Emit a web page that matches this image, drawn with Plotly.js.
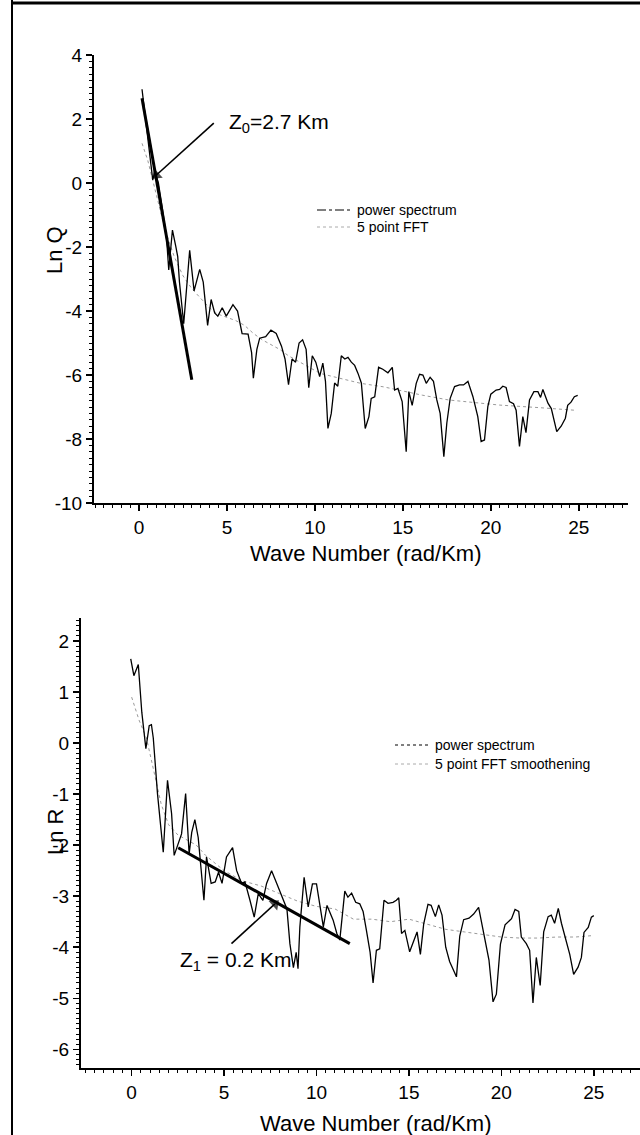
<!DOCTYPE html>
<html>
<head>
<meta charset="utf-8">
<script src="https://cdn.plot.ly/plotly-3.0.1.min.js"></script>
<style>html,body{margin:0;padding:0;background:#fff;}#chart{width:640px;height:1135px;}</style>
</head>
<body>
<div id="chart"></div>
<script>
// ---- Top panel: Ln Q vs wave number ----
var qX = [0.17,0.51,0.70,0.78,0.90,1.10,1.30,1.56,1.69,1.90,2.09,2.20,2.30,2.54,2.88,3.13,3.45,3.65,3.90,4.10,4.30,4.48,4.73,4.96,5.34,5.60,5.86,6.20,6.40,6.50,6.70,6.86,7.20,7.50,7.80,8.10,8.30,8.50,8.70,8.90,9.10,9.30,9.50,9.65,9.85,10.05,10.27,10.45,10.60,10.74,10.93,11.12,11.30,11.50,11.70,11.88,12.07,12.26,12.45,12.64,12.86,13.07,13.20,13.40,13.62,13.86,14.15,14.40,14.53,14.72,14.96,15.19,15.34,15.53,15.76,15.95,16.14,16.33,16.55,16.74,16.93,17.12,17.33,17.50,17.69,17.94,18.22,18.45,18.70,18.98,19.26,19.45,19.64,19.83,20.00,20.30,20.50,20.68,20.87,21.06,21.29,21.44,21.63,21.82,22.00,22.20,22.45,22.68,22.83,22.96,23.25,23.44,23.75,24.00,24.24,24.37,24.56,24.75,24.94];
var qY = [2.93,1.34,0.40,0.10,0.35,0.00,-0.70,-1.68,-2.72,-1.47,-1.98,-2.30,-3.10,-4.40,-2.10,-3.37,-2.70,-3.10,-4.45,-3.64,-4.06,-4.16,-3.90,-4.16,-3.80,-4.00,-4.71,-4.72,-5.30,-6.10,-5.20,-4.85,-4.80,-4.60,-4.70,-5.10,-5.50,-6.30,-5.50,-5.60,-5.00,-4.90,-5.20,-6.40,-5.40,-5.60,-6.05,-5.63,-6.20,-7.67,-7.20,-6.25,-6.35,-5.40,-5.50,-5.45,-5.60,-5.70,-5.95,-6.25,-7.67,-7.30,-6.73,-6.68,-5.76,-5.82,-5.93,-5.76,-6.47,-6.42,-6.83,-8.40,-6.52,-6.95,-6.26,-5.98,-6.00,-6.26,-6.07,-6.20,-6.78,-7.20,-8.55,-7.50,-6.73,-6.36,-6.31,-6.31,-6.20,-6.67,-7.30,-8.08,-8.03,-6.99,-6.60,-6.47,-6.45,-6.35,-6.39,-6.83,-6.90,-7.10,-8.23,-7.30,-7.80,-6.78,-6.52,-6.52,-6.70,-6.45,-6.88,-7.05,-7.77,-7.60,-7.35,-6.95,-6.85,-6.68,-6.64];
var qSmoothX = [0.17,0.5,1.0,1.5,2.0,2.5,3.0,3.5,4.0,4.5,5.0,5.5,6.0,6.5,7.0,7.5,8.0,8.5,9.0,9.5,10.3,11.4,12.6,13.9,16.1,17.6,20.5,22.75,24.75];
var qSmoothY = [1.24,0.70,-0.40,-1.50,-2.30,-2.90,-3.30,-3.60,-3.90,-4.10,-4.20,-4.30,-4.45,-4.70,-4.90,-5.05,-5.20,-5.40,-5.55,-5.70,-5.95,-6.10,-6.26,-6.37,-6.63,-6.78,-6.94,-7.02,-7.10];
var qFitX = [0.17,3.0];
var qFitY = [2.65,-6.15];
var qArrowX = [4.25,0.99];
var qArrowY = [1.87,0.25];
var qTickVals = [4,2,0,-2,-4,-6,-8,-10];
var qTickText = ['4','2','0','-2','-4','-6','-8','-10'];

// ---- Bottom panel: Ln R vs wave number ----
var rX = [-0.05,0.12,0.36,0.55,0.77,0.95,1.07,1.17,1.40,1.71,1.94,2.16,2.30,2.50,2.70,2.92,3.11,3.25,3.42,3.60,3.91,4.05,4.30,4.52,4.70,4.89,5.13,5.46,5.68,5.95,6.13,6.40,6.63,6.85,7.10,7.30,7.57,7.85,8.20,8.40,8.56,8.75,8.90,9.00,9.10,9.33,9.55,9.78,10.00,10.20,10.37,10.57,10.90,11.10,11.26,11.53,11.70,11.90,12.12,12.34,12.52,12.70,12.90,13.06,13.24,13.42,13.65,13.87,14.14,14.32,14.45,14.60,14.78,15.04,15.44,15.62,15.80,16.03,16.20,16.43,16.61,16.79,16.99,17.20,17.57,17.75,17.96,18.25,18.50,18.77,19.04,19.33,19.55,19.73,19.95,20.20,20.55,20.74,20.94,21.08,21.35,21.53,21.71,21.89,22.10,22.29,22.53,22.70,22.88,23.08,23.25,23.52,23.70,23.91,24.15,24.33,24.47,24.70,24.87,25.00];
var rY = [1.65,1.32,1.54,0.60,-0.11,0.34,0.36,0.10,-1.00,-2.14,-0.73,-1.38,-2.20,-2.00,-1.78,-0.99,-2.17,-1.75,-1.50,-1.85,-3.08,-2.23,-2.75,-2.72,-2.53,-2.75,-2.23,-2.05,-2.50,-2.75,-2.72,-3.08,-3.41,-2.95,-3.08,-2.75,-2.50,-2.75,-3.08,-3.25,-3.93,-4.40,-4.10,-4.42,-3.60,-2.63,-3.21,-2.76,-2.76,-3.20,-3.60,-3.18,-3.47,-3.73,-3.86,-2.90,-3.02,-2.94,-3.12,-3.15,-3.30,-3.67,-4.10,-4.70,-4.06,-4.03,-3.08,-3.14,-3.12,-3.08,-3.03,-3.73,-3.67,-4.09,-3.70,-4.14,-3.54,-3.16,-3.18,-3.40,-3.17,-3.37,-4.00,-4.28,-4.58,-3.78,-3.46,-3.43,-3.35,-3.22,-3.73,-4.25,-5.07,-4.92,-3.94,-3.56,-3.44,-3.26,-3.30,-3.80,-3.93,-4.06,-5.09,-4.20,-4.75,-3.70,-3.40,-3.37,-3.53,-3.24,-3.53,-3.88,-4.14,-4.53,-4.39,-4.20,-3.71,-3.61,-3.41,-3.38];
var rSmoothX = [0,0.4,0.8,1.2,1.6,2.0,2.5,3.0,3.5,4.0,5.0,6.0,7.0,8.0,9.0,10.0,11.0,12.0,13.0,14.0,15.0,16.0,17.0,18.0,19.0,20.0,21.0,22.0,23.0,24.0,25.0];
var rSmoothY = [0.90,0.45,0.10,-0.55,-1.20,-1.60,-1.80,-1.90,-2.00,-2.20,-2.50,-2.70,-2.80,-2.95,-3.10,-3.20,-3.25,-3.45,-3.45,-3.50,-3.45,-3.55,-3.65,-3.70,-3.75,-3.80,-3.82,-3.82,-3.80,-3.80,-3.77];
var rFitX = [2.52,11.8];
var rFitY = [-2.05,-3.93];
var rArrowX = [5.4,7.75];
var rArrowY = [-3.93,-3.15];
var rTickVals = [2,1,0,-1,-2,-3,-4,-5,-6];
var rTickText = ['2','1','0','-1','-2','-3','-4','-5','-6'];

var legendTop = ["power spectrum","5 point FFT"];
var legendBottom = ["power spectrum","5 point FFT smoothening"];
var xTitle = "Wave Number (rad/Km)";

var W = 640, H = 1135;
function px(v){return v/W;}
function py(v){return 1 - v/H;}
var FONT = "Liberation Sans, Arial, Helvetica, sans-serif";

function arrowTrace(xs, ys, xa, ya){
  return {x:xs, y:ys, xaxis:xa, yaxis:ya, mode:'lines+markers', hoverinfo:'skip',
    line:{color:'#000',width:1.6},
    marker:{symbol:['circle','triangle-up'], size:[0,11], color:'#000', angleref:'previous', line:{width:0}}};
}

var traces = [
  {x:qSmoothX,y:qSmoothY,xaxis:'x',yaxis:'y',mode:'lines',line:{color:'#9a9a9a',width:1,dash:'dot'},hoverinfo:'skip'},
  {x:qX,y:qY,xaxis:'x',yaxis:'y',mode:'lines',line:{color:'#000',width:1.3},hoverinfo:'skip'},
  {x:qFitX,y:qFitY,xaxis:'x',yaxis:'y',mode:'lines',line:{color:'#000',width:3},hoverinfo:'skip'},
  arrowTrace(qArrowX,qArrowY,'x','y'),
  {x:rSmoothX,y:rSmoothY,xaxis:'x2',yaxis:'y2',mode:'lines',line:{color:'#9a9a9a',width:1,dash:'dot'},hoverinfo:'skip'},
  {x:rX,y:rY,xaxis:'x2',yaxis:'y2',mode:'lines',line:{color:'#000',width:1.3},hoverinfo:'skip'},
  {x:rFitX,y:rFitY,xaxis:'x2',yaxis:'y2',mode:'lines',line:{color:'#000',width:3},hoverinfo:'skip'},
  arrowTrace(rArrowX,rArrowY,'x2','y2')
];

var axBase = {
  showgrid:false, zeroline:false, showline:true, linecolor:'#000', linewidth:2,
  ticks:'outside', ticklen:6, tickwidth:1.5, tickcolor:'#000',
  tickfont:{family:FONT,size:19,color:'#000'}, fixedrange:true
};
function ax(extra){var o=JSON.parse(JSON.stringify(axBase));for(var k in extra)o[k]=extra[k];return o;}

var layout = {
  width:W, height:H, margin:{l:0,r:0,t:0,b:0},
  paper_bgcolor:'#fff', plot_bgcolor:'rgba(0,0,0,0)', showlegend:false,
  font:{family:FONT,color:'#000'},
  xaxis: ax({domain:[px(94),px(628)], range:[-2.56,27.8], anchor:'y', tickmode:'linear', tick0:0, dtick:5,
     minor:{dtick:0.5,ticks:'outside',ticklen:3,tickcolor:'#000',tickwidth:1}}),
  yaxis: ax({domain:[py(503),py(55)], range:[-10,4], anchor:'x', tickmode:'array', tickvals:qTickVals, ticktext:qTickText,
     minor:{tickmode:'linear',tick0:0,dtick:0.2,ticks:'outside',ticklen:3,tickcolor:'#000',tickwidth:1}}),
  xaxis2: ax({domain:[px(81),1], range:[-2.74,27.5], anchor:'y2', tickmode:'linear', tick0:0, dtick:5,
     minor:{dtick:0.5,ticks:'outside',ticklen:3,tickcolor:'#000',tickwidth:1}}),
  yaxis2: ax({domain:[py(1067.7),py(618)], range:[-6.36,2.45], anchor:'x2', tickmode:'array', tickvals:rTickVals, ticktext:rTickText,
     minor:{tickmode:'linear',tick0:0,dtick:0.1,ticks:'outside',ticklen:3,tickcolor:'#000',tickwidth:1}}),
  shapes:[
    {type:'line',xref:'paper',yref:'paper',x0:px(12),x1:px(12),y0:0,y1:1,line:{color:'#000',width:2}},
    {type:'line',xref:'paper',yref:'paper',x0:px(12),x1:1,y0:py(3),y1:py(3),line:{color:'#000',width:3}},
    {type:'line',xref:'paper',yref:'paper',x0:px(317),x1:px(350),y0:py(210),y1:py(210),line:{color:'#000',width:1,dash:'dashdot'}},
    {type:'line',xref:'paper',yref:'paper',x0:px(317),x1:px(350),y0:py(227),y1:py(227),line:{color:'#aaa',width:1,dash:'dot'}},
    {type:'line',xref:'paper',yref:'paper',x0:px(395),x1:px(428),y0:py(745),y1:py(745),line:{color:'#000',width:1,dash:'dot'}},
    {type:'line',xref:'paper',yref:'paper',x0:px(395),x1:px(428),y0:py(764),y1:py(764),line:{color:'#aaa',width:1,dash:'dot'}}
  ],
  annotations:[
    {xref:'paper',yref:'paper',x:px(365),y:py(554),text:xTitle,showarrow:false,font:{family:FONT,size:22,color:'#000'},xanchor:'center',yanchor:'middle'},
    {xref:'paper',yref:'paper',x:px(375),y:py(1123),text:xTitle,showarrow:false,font:{family:FONT,size:22,color:'#000'},xanchor:'center',yanchor:'middle'},
    {xref:'paper',yref:'paper',x:px(55),y:py(250),text:'Ln Q',textangle:-90,showarrow:false,font:{family:FONT,size:22,color:'#000'},xanchor:'center',yanchor:'middle'},
    {xref:'paper',yref:'paper',x:px(55),y:py(832),text:'Ln R',textangle:-90,showarrow:false,font:{family:FONT,size:22,color:'#000'},xanchor:'center',yanchor:'middle'},
    {xref:'paper',yref:'paper',x:px(355),y:py(210),text:legendTop[0],showarrow:false,font:{family:FONT,size:14,color:'#000'},xanchor:'left',yanchor:'middle'},
    {xref:'paper',yref:'paper',x:px(355),y:py(227),text:legendTop[1],showarrow:false,font:{family:FONT,size:14,color:'#000'},xanchor:'left',yanchor:'middle'},
    {xref:'paper',yref:'paper',x:px(433),y:py(745),text:legendBottom[0],showarrow:false,font:{family:FONT,size:14,color:'#000'},xanchor:'left',yanchor:'middle'},
    {xref:'paper',yref:'paper',x:px(433),y:py(764),text:legendBottom[1],showarrow:false,font:{family:FONT,size:14,color:'#000'},xanchor:'left',yanchor:'middle'},
    {xref:'x',yref:'y',x:5.0,y:1.87,text:'Z<sub>0</sub>=2.7 Km',showarrow:false,font:{family:FONT,size:21,color:'#000'},xanchor:'left',yanchor:'middle'},
    {xref:'x2',yref:'y2',x:2.51,y:-4.26,text:'Z<sub>1</sub> = 0.2 Km',showarrow:false,font:{family:FONT,size:21,color:'#000'},xanchor:'left',yanchor:'middle'}
  ]
};

Plotly.newPlot('chart', traces, layout, {staticPlot:true, displayModeBar:false}).then(function(gd){
  // drop empty placeholder text nodes (unused axis titles)
  var texts = gd.querySelectorAll('text');
  for (var i = 0; i < texts.length; i++) {
    if (!texts[i].textContent || !texts[i].textContent.trim()) texts[i].parentNode.removeChild(texts[i]);
  }
});
</script>
</body>
</html>
